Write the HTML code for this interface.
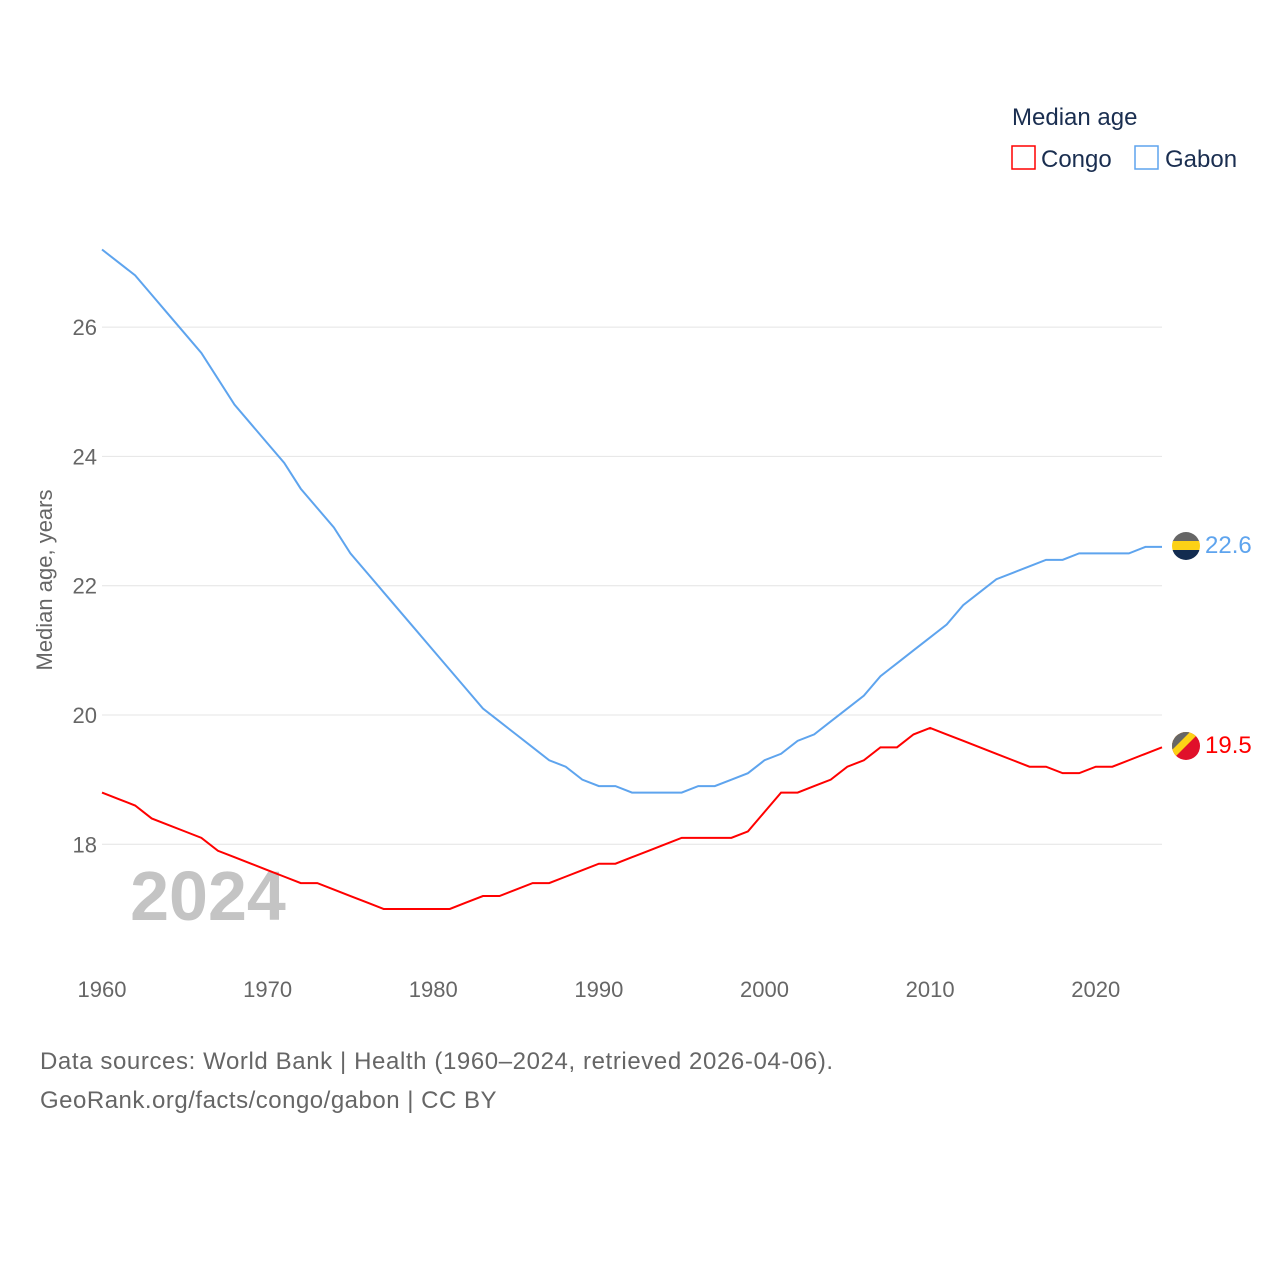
<!DOCTYPE html>
<html><head><meta charset="utf-8"><style>
body{margin:0;background:#fff;font-family:"Liberation Sans",sans-serif}
svg text{font-family:"Liberation Sans",sans-serif}
</style></head><body>
<svg id="chart" width="1280" height="1280">
<defs>
<clipPath id="cg"><circle cx="1186" cy="546" r="14"/></clipPath>
<clipPath id="cc"><circle cx="1186" cy="746" r="14"/></clipPath>
</defs>
<g id="grid"></g>
<text x="208" y="920" font-size="70" font-weight="bold" fill="#c4c4c4" text-anchor="middle">2024</text>
<g id="series"></g>
<text transform="translate(52,580) rotate(-90)" font-size="22" fill="#666" text-anchor="middle">Median age, years</text>
<text x="1012" y="125" font-size="24" fill="#1a2e50">Median age</text>
<g><rect x="1012" y="146" width="23" height="23" fill="none" stroke="#f00" stroke-width="1.5"/><text x="1041" y="167" font-size="24" fill="#1a2e50">Congo</text></g>
<g><rect x="1135" y="146" width="23" height="23" fill="none" stroke="#5ea4ee" stroke-width="1.5"/><text x="1165" y="167" font-size="24" fill="#1a2e50">Gabon</text></g>
<g clip-path="url(#cg)"><rect x="1172" y="532" width="28" height="10" fill="#666"/><rect x="1172" y="541" width="28" height="10" fill="#fcd116"/><rect x="1172" y="550" width="28" height="10" fill="#132c50"/></g>
<g clip-path="url(#cc)"><rect x="1172" y="732" width="28" height="28" fill="#e0102a"/><polygon points="1172,732 1200,732 1172,760" fill="#fcd116"/><polygon points="1172,732 1190,732 1172,750" fill="#666"/></g>
<text x="1205" y="553" font-size="24" fill="#5ea4ee">22.6</text>
<text x="1205" y="753" font-size="24" fill="#f00">19.5</text>
<text x="40" y="1069" font-size="24" fill="#666" letter-spacing="0.6">Data sources: World Bank | Health (1960–2024, retrieved 2026-04-06).</text>
<text x="40" y="1108" font-size="24" fill="#666" letter-spacing="0.5">GeoRank.org/facts/congo/gabon | CC BY</text>
</svg>
<script>
const years=[];for(let y=1960;y<=2024;y++)years.push(y);
const gabon=[27.2,27.0,26.8,26.5,26.2,25.9,25.6,25.2,24.8,24.5,24.2,23.9,23.5,23.2,22.9,22.5,22.2,21.9,21.6,21.3,21.0,20.7,20.4,20.1,19.9,19.7,19.5,19.3,19.2,19.0,18.9,18.9,18.8,18.8,18.8,18.8,18.9,18.9,19.0,19.1,19.3,19.4,19.6,19.7,19.9,20.1,20.3,20.6,20.8,21.0,21.2,21.4,21.7,21.9,22.1,22.2,22.3,22.4,22.4,22.5,22.5,22.5,22.5,22.6,22.6];
const congo=[18.8,18.7,18.6,18.4,18.3,18.2,18.1,17.9,17.8,17.7,17.6,17.5,17.4,17.4,17.3,17.2,17.1,17.0,17.0,17.0,17.0,17.0,17.1,17.2,17.2,17.3,17.4,17.4,17.5,17.6,17.7,17.7,17.8,17.9,18.0,18.1,18.1,18.1,18.1,18.2,18.5,18.8,18.8,18.9,19.0,19.2,19.3,19.5,19.5,19.7,19.8,19.7,19.6,19.5,19.4,19.3,19.2,19.2,19.1,19.1,19.2,19.2,19.3,19.4,19.5];
const yTicks=[18,20,22,24,26];
const xTicks=[1960,1970,1980,1990,2000,2010,2020];
const X=y=>102+(y-1960)*(1162-102)/64;
const Y=v=>715-(v-20)*64.65;
const NS='http://www.w3.org/2000/svg';
const grid=document.getElementById('grid'),ser=document.getElementById('series');
yTicks.forEach(t=>{
 const l=document.createElementNS(NS,'line');
 
 
 l.setAttribute('x1',102);l.setAttribute('x2',1162);l.setAttribute('y1',Y(t));l.setAttribute('y2',Y(t));
 l.setAttribute('stroke','#e4e4e4');grid.appendChild(l);
 const tx=document.createElementNS(NS,'text');
 
 
 tx.setAttribute('x',97);tx.setAttribute('y',Y(t)+8);tx.setAttribute('text-anchor','end');
 tx.setAttribute('font-size','22');tx.setAttribute('fill','#666');tx.textContent=t;grid.appendChild(tx);
});
xTicks.forEach(t=>{
 const tx=document.createElementNS(NS,'text');
 
 
 tx.setAttribute('x',X(t));tx.setAttribute('y',997);tx.setAttribute('text-anchor','middle');
 tx.setAttribute('font-size','22');tx.setAttribute('fill','#666');tx.textContent=t;grid.appendChild(tx);
});
function line(vals,color,name){
 const p=document.createElementNS(NS,'polyline');
 
 
 p.setAttribute('points',vals.map((v,i)=>X(years[i])+','+Y(v)).join(' '));
 p.setAttribute('fill','none');p.setAttribute('stroke',color);p.setAttribute('stroke-width','2');
 ser.appendChild(p);
}
line(gabon,'#5ea4ee','gabon-line');
line(congo,'#f00','congo-line');
</script>
</body></html>
